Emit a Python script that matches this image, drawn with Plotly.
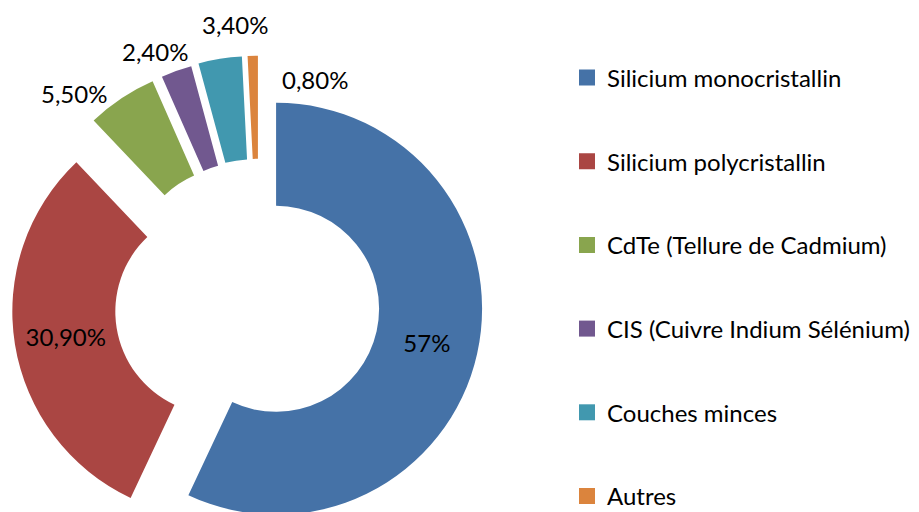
import math
import plotly.graph_objects as go

# ---- data ----
labels = ["Silicium monocristallin", "Silicium polycristallin", "CdTe (Tellure de Cadmium)",
          "CIS (Cuivre Indium Sélénium)", "Couches minces", "Autres"]
values = [57.0, 30.9, 5.5, 2.4, 3.4, 0.8]
value_text = ["57%", "30,90%", "5,50%", "2,40%", "3,40%", "0,80%"]

# ---- style ----
colors = ["#4572A7", "#AA4643", "#89A54E", "#71588F", "#4198AF", "#DB843D"]
explode = [0.085, 0.2, 0.205, 0.205, 0.21, 0.21]      # pull, fraction of outer radius
inside = [True, True, False, False, False, False]
# nudge (px) of outside labels from the slice's outer mid point
label_nudge = {2: (-47, -5), 3: (-21, -19), 4: (15, -34), 5: (62, 24)}

FONT = "Lato"
FS = 24
W, H = 919, 528     # chart bottom is cropped by the 512 px window, as in the original
CX, CY = 259, 305   # pie centre (px from top-left)
R = 206             # outer radius (px)
HOLE = 0.5

fig = go.Figure()
total = sum(values)
cum = 0.0
annotations = []
for i, v in enumerate(values):
    a0 = cum / total * 360.0
    cum += v
    a1 = cum / total * 360.0
    mid = math.radians((a0 + a1) / 2)
    ux, uy = math.sin(mid), -math.cos(mid)
    sx = CX + explode[i] * R * ux
    sy = CY + explode[i] * R * uy
    sx = min(max(sx, R), W - R)
    sy = min(max(sy, R), H - R)
    dom_x = [max(0.0, (sx - R) / W), min(1.0, (sx + R) / W)]
    dom_y = [max(0.0, 1 - (sy + R) / H), min(1.0, 1 - (sy - R) / H)]
    cols = [colors[j] if j == i else "rgba(0,0,0,0)" for j in range(len(values))]
    txt = [value_text[j] if (j == i and inside[j]) else "" for j in range(len(values))]
    fig.add_trace(go.Pie(
        labels=labels, values=values, sort=False, direction="clockwise", rotation=0,
        hole=HOLE, domain=dict(x=dom_x, y=dom_y),
        marker=dict(colors=cols, line=dict(width=0)),
        text=txt, textinfo="text", textposition="inside",
        insidetextorientation="horizontal",
        textfont=dict(family=FONT, size=FS, color="black"),
        showlegend=False, hoverinfo="skip",
    ))
    if not inside[i]:
        ox = sx + R * ux
        oy = sy + R * uy
        dx, dy = label_nudge[i]
        annotations.append(dict(
            x=ox / W, y=1 - oy / H, xref="paper", yref="paper",
            text=value_text[i], showarrow=False, xanchor="center", yanchor="middle",
            xshift=dx, yshift=-dy, font=dict(family=FONT, size=FS, color="black"),
        ))

# legend entries
for i, lab in enumerate(labels):
    fig.add_trace(go.Scatter(
        x=[None], y=[None], mode="markers", name=lab,
        marker=dict(symbol="square", size=16, color=colors[i]),
        legendgroup=f"g{i}", hoverinfo="skip",
    ))

item_h = 1.3 * FS + 3
first_item = 77.5
item_step = 83.7
gap = item_step - item_h
fig.update_layout(
    width=W, height=H,
    margin=dict(l=0, r=0, t=0, b=0, autoexpand=False),
    paper_bgcolor="white", plot_bgcolor="white",
    xaxis=dict(visible=False), yaxis=dict(visible=False),
    legend=dict(font=dict(family=FONT, size=FS, color="black"), bgcolor="rgba(0,0,0,0)",
                itemsizing="trace", traceorder="grouped", tracegroupgap=gap,
                x=567 / W, xanchor="left", y=1 - (first_item - 5 - item_h / 2) / H,
                yanchor="top"),
    annotations=annotations,
    showlegend=True,
)
fig.write_html("out.html", config={"displayModeBar": False},
               post_script="document.body.style.margin='0px';document.body.style.overflow='hidden';")
